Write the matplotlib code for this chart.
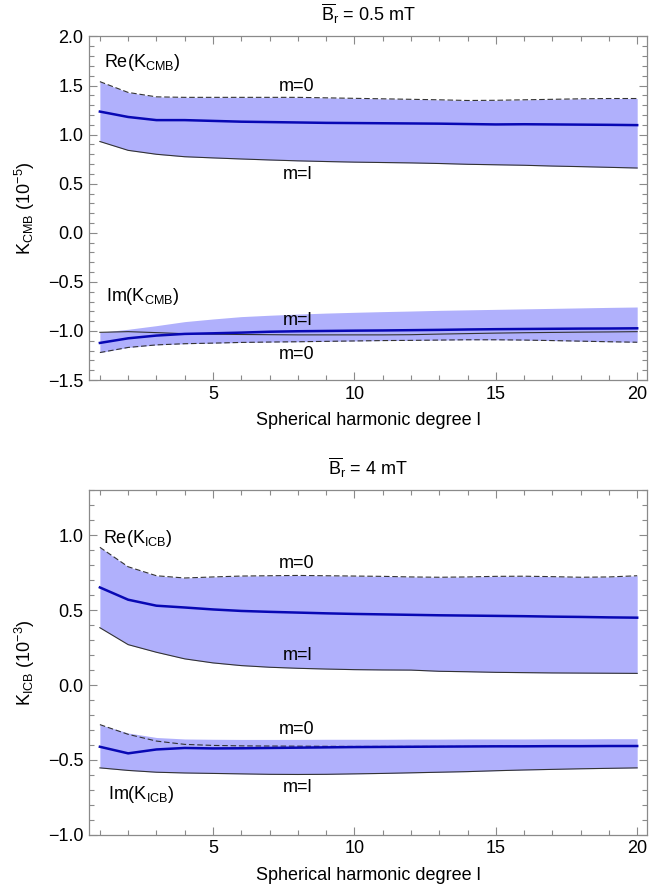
import numpy as np
import matplotlib
matplotlib.use("Agg")
import matplotlib.pyplot as plt
from matplotlib.ticker import MultipleLocator, FuncFormatter

plt.rcParams['font.family'] = ['Liberation Sans', 'DejaVu Sans']
plt.rcParams['mathtext.fontset'] = 'custom'
plt.rcParams['mathtext.rm'] = 'Liberation Sans'
plt.rcParams['mathtext.it'] = 'Liberation Sans'
plt.rcParams['font.size'] = 13

l = np.arange(1, 21)

# top panel, B_r = 0.5 mT  (units 1e-5)
re_cmb_m0 = [1.54, 1.43, 1.385, 1.38, 1.38, 1.38, 1.38, 1.38, 1.375, 1.37,
             1.365, 1.36, 1.355, 1.348, 1.35, 1.355, 1.36, 1.365, 1.368, 1.368]
re_cmb_mean = [1.235, 1.18, 1.148, 1.148, 1.14, 1.132, 1.128, 1.124, 1.12, 1.118,
               1.116, 1.114, 1.112, 1.108, 1.104, 1.106, 1.104, 1.102, 1.1, 1.097]
re_cmb_ml = [0.93, 0.84, 0.80, 0.775, 0.763, 0.752, 0.742, 0.733, 0.726, 0.72,
             0.716, 0.712, 0.706, 0.698, 0.693, 0.688, 0.68, 0.674, 0.667, 0.66]
im_cmb_m0 = [-1.22, -1.168, -1.142, -1.13, -1.124, -1.117, -1.113, -1.11, -1.106, -1.102,
             -1.098, -1.096, -1.093, -1.09, -1.09, -1.093, -1.098, -1.104, -1.11, -1.115]
im_cmb_mean = [-1.122, -1.075, -1.047, -1.03, -1.024, -1.017, -1.008, -1.003, -1.0, -0.997,
               -0.995, -0.992, -0.989, -0.985, -0.982, -0.98, -0.978, -0.976, -0.975, -0.973]
im_cmb_ml = [-1.014, -1.007, -1.017, -1.028, -1.033, -1.036, -1.038, -1.04, -1.04, -1.04,
             -1.04, -1.038, -1.032, -1.027, -1.022, -1.018, -1.015, -1.012, -1.01, -1.007]
im_cmb_top = [-1.014, -0.983, -0.946, -0.905, -0.878, -0.854, -0.84, -0.828, -0.818, -0.81,
              -0.803, -0.797, -0.79, -0.785, -0.78, -0.775, -0.77, -0.765, -0.76, -0.756]

# bottom panel, B_r = 4 mT  (units 1e-3)
re_icb_m0 = [0.92, 0.79, 0.73, 0.715, 0.722, 0.728, 0.73, 0.732, 0.73, 0.728,
             0.726, 0.722, 0.72, 0.722, 0.726, 0.727, 0.724, 0.72, 0.722, 0.73]
re_icb_mean = [0.652, 0.57, 0.53, 0.518, 0.505, 0.495, 0.489, 0.484, 0.479, 0.475,
               0.472, 0.469, 0.466, 0.464, 0.462, 0.46, 0.457, 0.455, 0.452, 0.45]
re_icb_ml = [0.383, 0.27, 0.219, 0.175, 0.148, 0.13, 0.119, 0.112, 0.107, 0.103,
             0.101, 0.1, 0.092, 0.089, 0.085, 0.083, 0.081, 0.08, 0.079, 0.078]
im_icb_m0 = [-0.264, -0.329, -0.374, -0.396, -0.403, -0.406, -0.407, -0.408, -0.409, -0.41,
             -0.41, -0.41, -0.41, -0.41, -0.409, -0.409, -0.408, -0.408, -0.407, -0.407]
im_icb_mean = [-0.412, -0.456, -0.43, -0.42, -0.423, -0.422, -0.42, -0.418, -0.416, -0.414,
               -0.413, -0.412, -0.411, -0.41, -0.409, -0.409, -0.408, -0.408, -0.407, -0.407]
im_icb_ml = [-0.553, -0.57, -0.582, -0.587, -0.59, -0.593, -0.596, -0.597, -0.596, -0.593,
             -0.59, -0.586, -0.582, -0.578, -0.572, -0.567, -0.563, -0.559, -0.556, -0.553]
im_icb_top = [-0.264, -0.32, -0.35, -0.36, -0.362, -0.363, -0.363, -0.363, -0.362, -0.362,
              -0.362, -0.361, -0.361, -0.36, -0.36, -0.36, -0.359, -0.359, -0.358, -0.358]

FILL = '#b0b0fc'
BLUE = '#0808b4'
EDGE = '#333333'
FRAME = '#8a8a8a'
FS = 13


def fmt(v, pos):
    return ('%.1f' % v).replace('-', '\u2212')


def style(ax, ylim):
    ax.set_xlim(0.61, 20.35)
    ax.set_ylim(*ylim)
    ax.xaxis.set_major_locator(MultipleLocator(5))
    ax.xaxis.set_minor_locator(MultipleLocator(1))
    ax.yaxis.set_major_locator(MultipleLocator(0.5))
    ax.yaxis.set_minor_locator(MultipleLocator(0.1))
    ax.yaxis.set_major_formatter(FuncFormatter(fmt))
    ax.tick_params(which='both', direction='in', top=True, right=True,
                   color=FRAME, width=0.8, labelsize=FS, pad=4)
    ax.tick_params(which='major', length=6)
    ax.tick_params(which='minor', length=3.5)
    for s in ax.spines.values():
        s.set_color(FRAME)
        s.set_linewidth(0.9)
    ax.set_xlabel('Spherical harmonic degree l', fontsize=FS, labelpad=7)


def band(ax, lo, hi, m0, ml, mean):
    ax.fill_between(l, lo, hi, color=FILL, lw=0)
    ax.plot(l, m0, color=EDGE, lw=0.8, ls=(0, (5, 2.5)))
    ax.plot(l, ml, color=EDGE, lw=0.8)
    ax.plot(l, mean, color=BLUE, lw=1.8)


fig = plt.figure(figsize=(6.63, 8.90), dpi=100)

ax1 = fig.add_axes([0.134, 0.573, 0.842, 0.386])
band(ax1, re_cmb_ml, re_cmb_m0, re_cmb_m0, re_cmb_ml, re_cmb_mean)
band(ax1, im_cmb_m0, im_cmb_top, im_cmb_m0, im_cmb_ml, im_cmb_mean)
style(ax1, (-1.5, 2.0))
ax1.set_title(r'$\overline{\mathrm{B}}_\mathrm{r}$ = 0.5 mT', fontsize=FS, pad=11)
ax1.set_ylabel(r'K$_\mathrm{CMB}$ (10$^{-5}$)', fontsize=FS, labelpad=8)
ax1.text(1.15, 1.73, r'Re(K$_\mathrm{CMB}$)', ha='left', va='center', fontsize=FS)
ax1.text(7.95, 1.49, 'm=0', ha='center', va='center', fontsize=FS)
ax1.text(8.0, 0.59, 'm=l', ha='center', va='center', fontsize=FS)
ax1.text(1.2, -0.65, r'Im(K$_\mathrm{CMB}$)', ha='left', va='center', fontsize=FS)
ax1.text(8.0, -0.89, 'm=l', ha='center', va='center', fontsize=FS)
ax1.text(7.95, -1.24, 'm=0', ha='center', va='center', fontsize=FS)

ax2 = fig.add_axes([0.134, 0.062, 0.842, 0.387])
band(ax2, re_icb_ml, re_icb_m0, re_icb_m0, re_icb_ml, re_icb_mean)
band(ax2, im_icb_ml, im_icb_top, im_icb_m0, im_icb_ml, im_icb_mean)
style(ax2, (-1.0, 1.3))
ax2.set_title(r'$\overline{\mathrm{B}}_\mathrm{r}$ = 4 mT', fontsize=FS, pad=11)
ax2.set_ylabel(r'K$_\mathrm{ICB}$ (10$^{-3}$)', fontsize=FS, labelpad=8)
ax2.text(1.1, 0.98, r'Re(K$_\mathrm{ICB}$)', ha='left', va='center', fontsize=FS)
ax2.text(7.95, 0.81, 'm=0', ha='center', va='center', fontsize=FS)
ax2.text(8.0, 0.20, 'm=l', ha='center', va='center', fontsize=FS)
ax2.text(7.95, -0.295, 'm=0', ha='center', va='center', fontsize=FS)
ax2.text(8.0, -0.687, 'm=l', ha='center', va='center', fontsize=FS)
ax2.text(1.3, -0.73, r'Im(K$_\mathrm{ICB}$)', ha='left', va='center', fontsize=FS)

fig.savefig('out.png', dpi=100)
